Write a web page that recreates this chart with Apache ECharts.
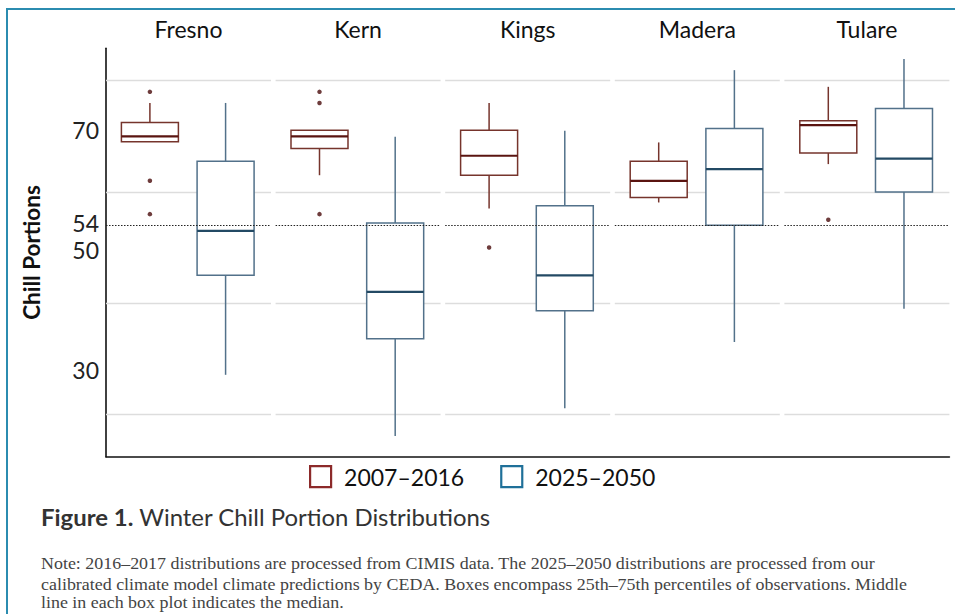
<!DOCTYPE html>
<html><head><meta charset="utf-8">
<script src="https://cdn.jsdelivr.net/npm/echarts@6/dist/echarts.min.js"></script>
<style>
html,body{margin:0;padding:0;background:#fff;}
#frame{position:absolute;left:6px;top:8px;width:949px;height:606px;border-top:2px solid #2b8cb0;border-left:2px solid #2b8cb0;}
#chart{position:absolute;left:0;top:0;width:955px;height:614px;}
</style></head>
<body><div id="frame"></div><div id="chart"></div>
<script>
// ---- data ----
const counties = ['Fresno', 'Kern', 'Kings', 'Madera', 'Tulare'];
const periods = ['2007–2016', '2025–2050'];
// [lower whisker, Q1, median, Q3, upper whisker]
const box2007 = [
  [69.0, 69.0, 70.0, 72.5, 76.0],
  [63.0, 67.8, 70.0, 71.1, 71.1],
  [57.0, 63.0, 66.5, 71.1, 76.0],
  [58.1, 59.0, 62.0, 65.5, 68.9],
  [65.0, 67.0, 72.0, 72.8, 78.9]
];
const box2025 = [
  [27.1, 45.0, 53.0, 65.5, 76.0],
  [16.1, 33.6, 42.0, 54.4, 69.9],
  [21.1, 38.6, 45.0, 57.5, 71.0],
  [33.0, 54.0, 64.1, 71.4, 81.9],
  [39.0, 60.0, 66.0, 75.0, 83.9]
];
const outliers2007 = [
  [78, 62, 56],
  [78, 76, 56],
  [50],
  [],
  [55]
];
const outliers2025 = [[], [], [], [], []];
const refLine = 54;
const gridValues = [20, 40, 60, 80];
const tickLabels = [70, 54, 50, 30];
const yLabel = 'Chill Portions';
const figTitle = 'Figure 1.';
const figSubtitle = 'Winter Chill Portion Distributions';
const noteLines = [
  'Note: 2016–2017 distributions are processed from CIMIS data. The 2025–2050 distributions are processed from our',
  'calibrated climate model climate predictions by CEDA. Boxes encompass 25th–75th percentiles of observations. Middle',
  'line in each box plot indicates the median.'
];

// ---- styling / layout ----
const FONT = 'Lato, "Open Sans", sans-serif';
const SERIF = '"Liberation Serif", "DejaVu Serif", serif';
const C07 = '#76342c', M07 = '#5a1410';
const C25 = '#52718a', M25 = '#234a64';
const LEG07 = '#8c2a2a', LEG25 = '#1f7099';
const PLOT_TOP = 48.3, PLOT_H = 408.4;
const PANEL_LEFT0 = 106, PANEL_STEP = 169.6, PANEL_W = 165;
const Y_MIN = 12.37, Y_MAX = 85.83;      // data scale
const YL_MIN = 15.55, YL_MAX = 83.62;    // tick label scale
const X_MIN = -0.58, X_MAX = 1.6;
const BOX_HALF = 28.5;

function boxRenderer(color, medColor) {
  return function (params, api) {
    const x = api.value(0);
    const lo = api.coord([x, api.value(1)]);
    const q1 = api.coord([x, api.value(2)]);
    const md = api.coord([x, api.value(3)]);
    const q3 = api.coord([x, api.value(4)]);
    const hi = api.coord([x, api.value(5)]);
    const cx = q1[0];
    const ls = {stroke: color, lineWidth: 1.5, fill: null};
    return {type: 'group', children: [
      {type: 'line', shape: {x1: cx, y1: hi[1], x2: cx, y2: q3[1]}, style: ls},
      {type: 'line', shape: {x1: cx, y1: q1[1], x2: cx, y2: lo[1]}, style: ls},
      {type: 'rect', shape: {x: cx - BOX_HALF, y: q3[1], width: 2 * BOX_HALF, height: q1[1] - q3[1]},
        style: {fill: '#fff', stroke: color, lineWidth: 1.5}},
      {type: 'line', shape: {x1: cx - BOX_HALF, y1: md[1], x2: cx + BOX_HALF, y2: md[1]},
        style: {stroke: medColor, lineWidth: 2.2}}
    ]};
  };
}

const grids = [], xAxes = [], yAxes = [], series = [];
counties.forEach((c, i) => {
  grids.push({left: PANEL_LEFT0 + i * PANEL_STEP, top: PLOT_TOP, width: PANEL_W, height: PLOT_H, containLabel: false, outerBoundsMode: 'none'});
  xAxes.push({type: 'value', gridIndex: i, min: X_MIN, max: X_MAX, position: 'top',
    name: c, nameLocation: 'middle', nameGap: 8,
    nameTextStyle: {fontFamily: FONT, fontSize: 23, color: '#111'},
    axisLine: {show: false}, axisTick: {show: false}, axisLabel: {show: false}, splitLine: {show: false}});
  yAxes.push({type: 'value', gridIndex: i, min: Y_MIN, max: Y_MAX, show: false});

  // gridlines (behind boxes)
  series.push({type: 'line', name: 'grid' + i, xAxisIndex: i, yAxisIndex: i, data: [], silent: true,
    markLine: {silent: true, symbol: 'none', z: 1, label: {show: false},
      lineStyle: {color: '#dddddd', width: 1.3, type: 'solid'},
      data: gridValues.map(v => ({yAxis: v}))}});
  series.push({type: 'custom', name: periods[0], xAxisIndex: i, yAxisIndex: i, z: 2, silent: true,
    renderItem: boxRenderer(C07, M07),
    encode: {x: 0, y: [1, 2, 3, 4, 5]},
    data: [[0].concat(box2007[i])]});
  series.push({type: 'custom', name: periods[1], xAxisIndex: i, yAxisIndex: i, z: 2, silent: true,
    renderItem: boxRenderer(C25, M25),
    encode: {x: 0, y: [1, 2, 3, 4, 5]},
    data: [[1].concat(box2025[i])],
    markLine: {silent: true, symbol: 'none', z: 5, label: {show: false},
      lineStyle: {color: '#222', width: 1, type: [1.5, 1.5]},
      data: [{yAxis: refLine}]}});
  series.push({type: 'scatter', name: 'out07_' + i, xAxisIndex: i, yAxisIndex: i, z: 3, silent: true,
    symbol: 'circle', symbolSize: 4.5, itemStyle: {color: '#4a0b0b'},
    data: outliers2007[i].map(v => [0, v])});
  series.push({type: 'scatter', name: 'out25_' + i, xAxisIndex: i, yAxisIndex: i, z: 3, silent: true,
    symbol: 'circle', symbolSize: 4.5, itemStyle: {color: '#1e3a4f'},
    data: outliers2025[i].map(v => [1, v])});
});

// frame grid: continuous axis lines + tick labels
const fi = counties.length;
grids.push({left: PANEL_LEFT0, top: PLOT_TOP, width: PANEL_STEP * (fi - 1) + PANEL_W, height: PLOT_H, containLabel: false, outerBoundsMode: 'none'});
xAxes.push({type: 'value', gridIndex: fi, min: 0, max: 1, position: 'bottom',
  axisLine: {show: true, lineStyle: {color: '#111', width: 1.6}},
  axisTick: {show: false}, axisLabel: {show: false}, splitLine: {show: false}});
yAxes.push({type: 'value', gridIndex: fi, min: YL_MIN, max: YL_MAX, position: 'left',
  name: yLabel, nameLocation: 'middle', nameGap: 63, nameRotate: 90,
  nameTextStyle: {fontFamily: FONT, fontSize: 22.5, fontWeight: 'bold', color: '#111'},
  axisLine: {show: true, lineStyle: {color: '#111', width: 1.6}},
  axisTick: {show: false},
  axisLabel: {customValues: tickLabels, margin: 7, fontFamily: FONT, fontSize: 23, lineHeight: 18, color: '#222',
    formatter: v => (v === 54 ? '{up|' + v + '}' : String(v)),
    rich: {up: {fontFamily: FONT, fontSize: 23, lineHeight: 18, color: '#222', padding: [0, 0, 6, 0]}}},
  splitLine: {show: false}});

const noteStyle = (t) => ({text: t, verticalAlign: 'middle', fill: '#444', font: '17px ' + SERIF, lineHeight: 15});

const chart = echarts.init(document.getElementById('chart'), null, {renderer: 'svg'});
chart.setOption({
  animation: false,
  backgroundColor: 'transparent',
  grid: grids, xAxis: xAxes, yAxis: yAxes, series: series,
  legend: {
    left: 304, top: 460, itemWidth: 21, itemHeight: 21, itemGap: 36, icon: 'rect',
    selectedMode: false,
    textStyle: {fontFamily: FONT, fontSize: 23, color: '#111', padding: [0, 0, 0, 8]},
    data: [
      {name: periods[0], itemStyle: {color: '#fff', borderColor: LEG07, borderWidth: 2.2}},
      {name: periods[1], itemStyle: {color: '#fff', borderColor: LEG25, borderWidth: 2.2}}
    ]
  },
  graphic: [
    {type: 'text', x: 41, y: 517, scaleX: 1.04, style: {
      text: '{b|' + figTitle + '} ' + figSubtitle,
      verticalAlign: 'middle', fill: '#333', font: '23px ' + FONT,
      rich: {b: {fontWeight: 'bold', fontSize: 23, fontFamily: FONT, fill: '#333'}}}},
    {type: 'text', x: 41, y: 563, scaleX: 1.055, style: noteStyle(noteLines[0])},
    {type: 'text', x: 41, y: 584, scaleX: 1.055, style: noteStyle(noteLines[1])},
    {type: 'text', x: 41, y: 602, scaleX: 1.055, style: noteStyle(noteLines[2])}
  ]
});
</script>
</body></html>
